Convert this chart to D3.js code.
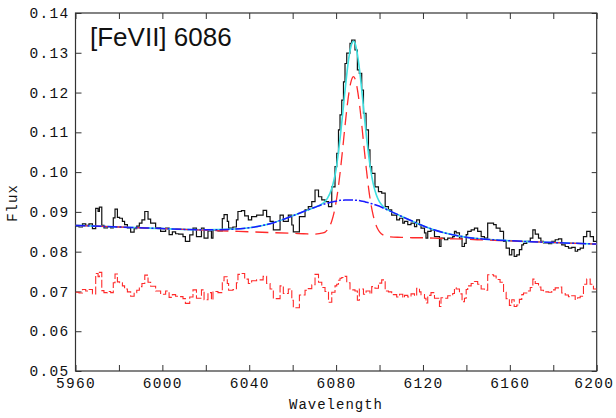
<!DOCTYPE html>
<html lang="en">
  <head>
    <meta charset="utf-8">
    <title>[FeVII] 6086 line fit</title>
    <style>
      body {
        margin: 0;
        background: white;
      }

      svg {
        display: block;
      }

      .tick text {
        font-family: "Liberation Mono", "DejaVu Sans Mono", monospace;
        font-size: 14.5px;
        letter-spacing: 1.3px;
        fill: #111;
      }

      .tick line {
        stroke: #333;
      }

      .axis-title {
        font-family: "Liberation Mono", "DejaVu Sans Mono", monospace;
        font-size: 14px;
        letter-spacing: 1px;
        fill: #111;
      }
    </style>
    <script src="https://d3js.org/d3.v7.min.js"></script>
  </head>
  <body>
    <script>

    // observed spectrum, step starts (Angstrom) and flux
    const stepWave = [5960, 5961.6, 5963.2, 5964.7, 5966.2, 5967.8, 5969.3, 5970.4, 5971.0, 5972.1,
      5973.1, 5974.7, 5976.2, 5977.4, 5978.2, 5979.3, 5980.3, 5981.6, 5982.6, 5983.9,
      5985.4, 5987.0, 5988.2, 5989.4, 5990.6, 5991.9, 5993.4, 5994.6, 5996.9, 5999.2,
      6001.5, 6003.1, 6004.6, 6006.1, 6007.5, 6009.5, 6010.6, 6012.6, 6014.1, 6015.7,
      6018.0, 6019.2, 6021.0, 6022.6, 6023.3, 6025.6, 6027.6, 6028.4, 6029.9, 6030.5,
      6032.5, 6034.1, 6034.8, 6036.4, 6037.9, 6039.6, 6041.1, 6043.4, 6046.4, 6048.0,
      6049.6, 6051.1, 6054.2, 6055.7, 6058.0, 6059.6, 6060.3, 6063.1, 6065.7, 6067.2,
      6068.8, 6070.3, 6071.9, 6073.4, 6074.9, 6076.5, 6078.0, 6079.5, 6080.3, 6081.1,
      6081.8, 6082.6, 6083.4, 6084.1, 6084.9, 6086.4, 6087.2, 6088.7, 6089.8, 6090.7,
      6091.8, 6092.6, 6093.8, 6094.9, 6095.6, 6096.4, 6097.9, 6099.5, 6101.0, 6102.6,
      6104.1, 6105.6, 6107.9, 6109.2, 6110.7, 6111.5, 6113.0, 6114.5, 6116.1, 6117.1,
      6118.4, 6119.1, 6120.7, 6121.4, 6122.2, 6123.7, 6125.3, 6127.6, 6128.3, 6129.9,
      6131.4, 6133.7, 6134.5, 6135.3, 6136.8, 6138.0, 6139.1, 6139.9, 6140.6, 6142.2,
      6143.7, 6145.2, 6146.8, 6148.3, 6149.8, 6152.5, 6153.7, 6155.5, 6157.1, 6158.3,
      6159.8, 6160.9, 6162.0, 6163.2, 6164.4, 6165.5, 6166.3, 6167.8, 6169.4, 6170.6,
      6171.7, 6173.2, 6174.3, 6175.5, 6177.8, 6179.3, 6180.9, 6182.4, 6183.9, 6185.5,
      6187.0, 6188.5, 6190.1, 6191.2, 6192.4, 6193.9, 6195.4, 6197.0, 6198.5]

    const stepFlux = [0.0864, 0.0862, 0.0870, 0.0866, 0.0870, 0.0858, 0.0909, 0.0901, 0.0912, 0.0866,
      0.0860, 0.0863, 0.0860, 0.0885, 0.0907, 0.0886, 0.0884, 0.0876, 0.0868, 0.0860,
      0.0849, 0.0858, 0.0864, 0.0872, 0.0880, 0.0901, 0.0882, 0.0872, 0.0860, 0.0851,
      0.0859, 0.0843, 0.0850, 0.0845, 0.0844, 0.0838, 0.0826, 0.0842, 0.0859, 0.0838,
      0.0859, 0.0834, 0.0852, 0.0834, 0.0855, 0.0852, 0.0883, 0.0893, 0.0876, 0.0859,
      0.0862, 0.0880, 0.0901, 0.0903, 0.0890, 0.0880, 0.0888, 0.0892, 0.0904, 0.0888,
      0.0876, 0.0855, 0.0892, 0.0876, 0.0892, 0.0867, 0.0850, 0.0888, 0.0905, 0.0913,
      0.0926, 0.0955, 0.0938, 0.0930, 0.0926, 0.0913, 0.0963, 0.1014, 0.1047, 0.1106,
      0.1144, 0.1181, 0.1227, 0.1273, 0.1299, 0.1324, 0.1332, 0.1307, 0.1257, 0.1248,
      0.1206, 0.1148, 0.1106, 0.1056, 0.1014, 0.0997, 0.0963, 0.0951, 0.0947, 0.0913,
      0.0905, 0.0892, 0.0880, 0.0884, 0.0872, 0.0876, 0.0868, 0.0872, 0.0863, 0.0880,
      0.0868, 0.0859, 0.0847, 0.0834, 0.0851, 0.0855, 0.0838, 0.0813, 0.0834, 0.0830,
      0.0834, 0.0838, 0.0851, 0.0847, 0.0834, 0.0813, 0.0821, 0.0843, 0.0851, 0.0855,
      0.0859, 0.0851, 0.0838, 0.0834, 0.0872, 0.0868, 0.0859, 0.0851, 0.0826, 0.0809,
      0.0792, 0.0805, 0.0788, 0.0792, 0.0805, 0.0817, 0.0821, 0.0826, 0.0834, 0.0855,
      0.0844, 0.0834, 0.0826, 0.0822, 0.0820, 0.0826, 0.0830, 0.0832, 0.0817, 0.0813,
      0.0809, 0.0811, 0.0801, 0.0805, 0.0809, 0.0838, 0.0851, 0.0838, 0.0826]

    // residuals, shifted to 0.07
    const stepResid = [0.0698, 0.0696, 0.0705, 0.0701, 0.0705, 0.0694, 0.0745, 0.0737, 0.0748, 0.0702,
      0.0697, 0.0700, 0.0697, 0.0722, 0.0744, 0.0724, 0.0722, 0.0714, 0.0706, 0.0699,
      0.0688, 0.0697, 0.0703, 0.0712, 0.0720, 0.0741, 0.0723, 0.0713, 0.0701, 0.0693,
      0.0701, 0.0685, 0.0692, 0.0688, 0.0687, 0.0682, 0.0670, 0.0686, 0.0704, 0.0683,
      0.0704, 0.0679, 0.0697, 0.0679, 0.0700, 0.0697, 0.0727, 0.0737, 0.0720, 0.0703,
      0.0705, 0.0722, 0.0743, 0.0745, 0.0731, 0.0720, 0.0727, 0.0729, 0.0738, 0.0720,
      0.0706, 0.0682, 0.0714, 0.0695, 0.0706, 0.0678, 0.0659, 0.0691, 0.0703, 0.0707,
      0.0717, 0.0743, 0.0723, 0.0710, 0.0700, 0.0673, 0.0698, 0.0714, 0.0718, 0.0728,
      0.0733, 0.0735, 0.0736, 0.0738, 0.0722, 0.0706, 0.0704, 0.0701, 0.0678, 0.0706,
      0.0706, 0.0693, 0.0701, 0.0701, 0.0694, 0.0712, 0.0708, 0.0721, 0.0729, 0.0701,
      0.0699, 0.0692, 0.0686, 0.0693, 0.0684, 0.0690, 0.0686, 0.0694, 0.0689, 0.0708,
      0.0699, 0.0692, 0.0683, 0.0671, 0.0690, 0.0697, 0.0683, 0.0662, 0.0684, 0.0683,
      0.0689, 0.0695, 0.0709, 0.0706, 0.0694, 0.0674, 0.0683, 0.0705, 0.0714, 0.0720,
      0.0725, 0.0718, 0.0706, 0.0703, 0.0742, 0.0739, 0.0730, 0.0723, 0.0698, 0.0682,
      0.0665, 0.0679, 0.0662, 0.0666, 0.0680, 0.0692, 0.0696, 0.0701, 0.0710, 0.0731,
      0.0720, 0.0711, 0.0703, 0.0699, 0.0698, 0.0704, 0.0709, 0.0711, 0.0696, 0.0691,
      0.0687, 0.0689, 0.0680, 0.0684, 0.0688, 0.0718, 0.0731, 0.0718, 0.0706]

    // fitted model curves
    const fitWave = [5960, 5980, 6000, 6010, 6020, 6030, 6040, 6050, 6060, 6065,
      6070, 6074, 6076, 6078, 6079, 6080, 6081, 6082, 6083, 6084,
      6085, 6086, 6087, 6088, 6089, 6090, 6091, 6092, 6093, 6094,
      6095, 6096, 6097, 6098, 6099, 6100, 6102, 6105, 6110, 6115,
      6120, 6125, 6135, 6145, 6155, 6170, 6185, 6200]

    const narrowFit = [0.0866, 0.0862, 0.0858, 0.0856, 0.0854, 0.0852, 0.0850, 0.0848, 0.0846, 0.0845,
      0.0844, 0.0847, 0.0855, 0.0877, 0.0897, 0.0925, 0.0961, 0.1006, 0.1057, 0.1111,
      0.1161, 0.1203, 0.1230, 0.1240, 0.1230, 0.1201, 0.1160, 0.1109, 0.1055, 0.1004,
      0.0958, 0.0921, 0.0893, 0.0873, 0.0859, 0.0850, 0.0841, 0.0837, 0.0836, 0.0835,
      0.0835, 0.0834, 0.0832, 0.0830, 0.0828, 0.0825, 0.0822, 0.0819]

    const broadFit = [0.0866, 0.0862, 0.0858, 0.0856, 0.0855, 0.0856, 0.0860, 0.0871, 0.0890, 0.0901,
      0.0911, 0.0919, 0.0922, 0.0925, 0.0926, 0.0927, 0.0928, 0.0929, 0.0929, 0.0930,
      0.0930, 0.0930, 0.0930, 0.0930, 0.0929, 0.0929, 0.0928, 0.0927, 0.0926, 0.0924,
      0.0923, 0.0921, 0.0920, 0.0918, 0.0916, 0.0914, 0.0909, 0.0902, 0.0889, 0.0877,
      0.0865, 0.0855, 0.0841, 0.0833, 0.0829, 0.0825, 0.0822, 0.0819]

    const totalFit = [0.0866, 0.0862, 0.0858, 0.0856, 0.0855, 0.0856, 0.0860, 0.0871, 0.0890, 0.0901,
      0.0911, 0.0922, 0.0934, 0.0959, 0.0980, 0.1007, 0.1047, 0.1093, 0.1145, 0.1199,
      0.1250, 0.1292, 0.1319, 0.1329, 0.1319, 0.1290, 0.1248, 0.1196, 0.1141, 0.1088,
      0.1042, 0.1003, 0.0973, 0.0952, 0.0936, 0.0925, 0.0912, 0.0902, 0.0889, 0.0877,
      0.0865, 0.0855, 0.0841, 0.0833, 0.0829, 0.0825, 0.0822, 0.0819]

    const waveTicks = [5960, 6000, 6040, 6080, 6120, 6160, 6200]
    const waveMinor = [5980, 6020, 6060, 6100, 6140, 6180]
    const fluxTicks = [0.05, 0.06, 0.07, 0.08, 0.09, 0.10, 0.11, 0.12, 0.13, 0.14]

    const margin = { top: 13, left: 75.5, bottom: 47, right: 19.3 },
          width = 616 - margin.left - margin.right,
          height = 418 - margin.top - margin.bottom;

    const svg = d3.select("body")
                  .append("svg")
                  .attr("width", 616)
                  .attr("height", 418)
                  .style("background-color", "white")

    const g = svg.append("g")
                 .attr("transform", `translate(${margin.left},${margin.top})`)

    const x = d3.scaleLinear().domain([5960, 6200]).range([0, width])
    const y = d3.scaleLinear().domain([0.05, 0.14]).range([height, 0])

    g.append("clipPath")
      .attr("id", "plot-clip")
      .append("rect")
      .attr("width", width)
      .attr("height", height)

    // axes, ticks pointing inwards
    g.append("g")
      .attr("transform", `translate(0,${height})`)
      .call(d3.axisBottom(x).tickValues(waveTicks).tickSize(-6).tickPadding(7).tickFormat(d3.format("d")))
      .selectAll("text")
      .filter(d => d === 6200)
      .attr("dx", -3)
    g.append("g")
      .attr("transform", `translate(0,${height})`)
      .call(d3.axisBottom(x).tickValues(waveMinor).tickSize(-6).tickFormat(""))
    g.append("g")
      .call(d3.axisTop(x).tickValues(waveTicks.concat(waveMinor)).tickSize(-6).tickFormat(""))
    g.append("g")
      .call(d3.axisLeft(y).tickValues(fluxTicks).tickSize(-6).tickPadding(6).tickFormat(d3.format(".2f")))
    g.append("g")
      .attr("transform", `translate(${width},0)`)
      .call(d3.axisRight(y).tickValues(fluxTicks).tickSize(-5).tickFormat(""))

    g.selectAll(".domain").remove()

    g.append("rect")
      .attr("width", width)
      .attr("height", height)
      .attr("fill", "none")
      .attr("stroke", "#333")
      .attr("stroke-width", 1.2)

    const plot = g.append("g").attr("clip-path", "url(#plot-clip)")

    const stepLine = d3.line()
      .x(d => x(d[0]))
      .y(d => y(d[1]))
      .curve(d3.curveStepAfter)

    const smoothLine = d3.line()
      .x(d => x(d[0]))
      .y(d => y(d[1]))
      .curve(d3.curveMonotoneX)

    const observed = stepWave.map((w, i) => [w, stepFlux[i]])
    observed.push([6200, stepFlux[stepFlux.length - 1]])
    const resid = stepWave.map((w, i) => [w, stepResid[i]])
    resid.push([6200, stepResid[stepResid.length - 1]])

    plot.append("path")
      .attr("d", stepLine(resid))
      .attr("fill", "none")
      .attr("stroke", "#ff2a2a")
      .attr("stroke-width", 1.1)
      .attr("stroke-dasharray", "8,2.5")

    plot.append("path")
      .attr("d", stepLine(observed))
      .attr("fill", "none")
      .attr("stroke", "#111")
      .attr("stroke-width", 1.2)

    plot.append("path")
      .attr("d", smoothLine(fitWave.map((w, i) => [w, totalFit[i]])))
      .attr("fill", "none")
      .attr("stroke", "#3ee0e0")
      .attr("stroke-width", 1.6)

    plot.append("path")
      .attr("d", smoothLine(fitWave.map((w, i) => [w, narrowFit[i]])))
      .attr("fill", "none")
      .attr("stroke", "#ff2a2a")
      .attr("stroke-width", 1.3)
      .attr("stroke-dasharray", "13,7")

    plot.append("path")
      .attr("d", smoothLine(fitWave.map((w, i) => [w, broadFit[i]])))
      .attr("fill", "none")
      .attr("stroke", "#1a1aff")
      .attr("stroke-width", 1.5)
      .attr("stroke-dasharray", "10,2,2,2")

    // labels
    svg.append("text")
      .attr("x", 90)
      .attr("y", 46)
      .text("[FeVII] 6086")
      .style("font-family", "'Liberation Sans', Arial, sans-serif")
      .style("font-size", "26px")
      .style("fill", "#111")

    svg.append("text")
      .attr("class", "axis-title")
      .attr("transform", "translate(17,203) rotate(-90)")
      .attr("text-anchor", "middle")
      .text("Flux")

    svg.append("text")
      .attr("class", "axis-title")
      .attr("x", 336)
      .attr("y", 409)
      .attr("text-anchor", "middle")
      .text("Wavelength")
    </script>
  </body>
</html>
